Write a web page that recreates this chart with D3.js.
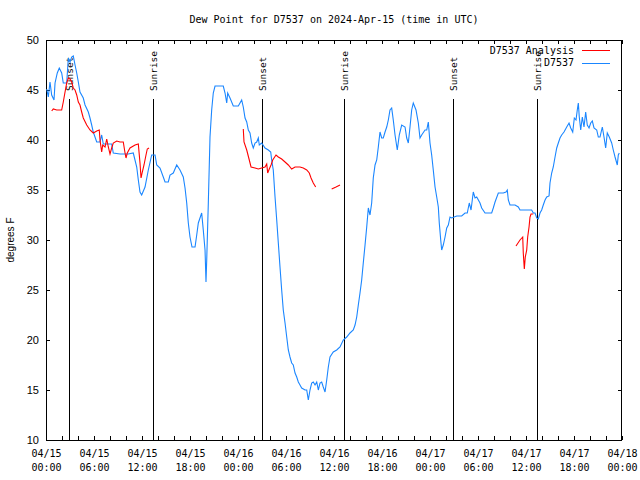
<!DOCTYPE html>
<html><head><meta charset="utf-8">
<script src="https://cdn.jsdelivr.net/npm/d3@7"></script>
<style>
html,body{margin:0;padding:0;background:#fff;}
svg{display:block;}
</style>
</head><body>
<svg id="chart" width="640" height="480"></svg>
<script>
// ---- data (hours since 2024-04-15 00:00 UTC) ----
const titleText = "Dew Point for D7537 on 2024-Apr-15 (time in UTC)";
const yLabel = "degrees F";
const seriesNames = ["D7537 Analysis", "D7537"];
const yTicks = [10, 15, 20, 25, 30, 35, 40, 45, 50];

const stationHours = [0.09,0.29,0.5,0.71,1.0,1.13,1.41,1.66,1.96,2.16,2.59,2.79,3.0,3.21,3.41,3.63,3.84,4.04,4.25,4.66,4.88,5.29,5.5,5.71,5.91,6.34,6.75,6.96,7.16,8.21,8.41,9.25,10.29,10.91,11.34,11.54,11.75,11.96,12.38,12.79,13.21,13.63,13.84,14.25,14.66,14.88,15.29,15.5,15.91,16.34,16.75,17.16,17.38,17.59,17.79,18.0,18.25,18.63,18.84,19.04,19.46,19.66,19.88,20.0,20.09,20.29,20.5,20.71,20.91,21.13,22.16,22.38,22.59,22.71,23.0,23.41,24.04,24.46,24.66,24.88,25.09,25.29,25.5,25.71,25.91,26.13,26.34,26.54,26.66,26.96,27.38,27.79,28.09,28.21,28.41,28.63,28.84,29.04,29.25,29.46,29.66,29.88,30.09,30.29,30.5,30.71,30.91,31.13,31.34,31.54,31.75,31.96,32.38,32.59,32.79,33.0,33.21,33.41,33.63,33.84,34.04,34.25,34.46,34.66,34.88,35.09,35.29,35.5,35.91,36.34,36.75,37.16,37.59,38.0,38.41,38.63,38.84,39.04,39.25,39.46,39.66,39.88,40.09,40.29,40.5,40.71,40.91,41.13,41.34,41.54,41.75,41.96,42.16,42.38,42.59,42.79,43.0,43.21,43.41,43.63,43.91,44.16,44.46,44.88,45.09,45.29,45.5,45.71,45.91,46.25,46.54,46.75,46.96,47.38,47.59,47.79,48.0,48.21,48.41,48.63,48.84,49.04,49.16,49.34,49.46,49.66,49.88,50.09,50.29,50.5,50.71,51.34,51.96,52.38,52.66,52.91,53.13,53.41,53.63,53.84,54.25,54.46,54.88,55.71,55.91,56.13,56.54,57.16,57.5,57.66,57.79,58.0,58.63,59.04,59.25,60.71,60.91,61.13,61.34,61.54,61.75,61.96,62.16,62.38,62.59,62.88,63.0,63.21,63.41,63.63,63.84,64.04,64.25,64.46,64.75,65.09,65.38,65.59,65.84,66.04,66.25,66.41,66.54,66.66,66.84,67.04,67.25,67.46,67.66,67.88,68.09,68.29,68.5,68.84,69.04,69.25,69.54,69.75,69.96,70.16,70.41,70.71,70.91,71.13,71.41,71.54,71.66];
const stationValues = [45.1,44.3,45.8,44.5,44.0,45.7,46.7,47.2,46.7,45.7,45.7,48.2,47.8,48.3,48.4,47.5,46.7,45.8,44.8,44.2,43.5,42.8,42.2,41.5,40.8,39.8,39.8,40.5,39.6,39.6,38.7,38.6,38.6,38.7,37.3,36.0,34.8,34.5,35.3,37.0,38.5,38.5,37.5,37.2,36.3,35.8,35.8,36.5,36.7,37.5,37.0,36.3,35.2,33.7,31.7,30.3,29.3,29.3,30.5,31.7,32.7,31.0,29.0,25.8,28.0,33.7,40.3,43.0,44.7,45.4,45.4,44.7,43.7,44.7,44.2,43.4,43.4,44.0,43.3,42.2,41.8,41.0,40.7,39.7,39.2,39.7,39.8,40.2,39.5,39.7,39.2,39.0,38.8,38.0,37.0,34.3,32.0,29.7,27.3,25.0,23.0,21.7,20.3,19.0,18.3,17.7,17.5,16.7,16.3,15.8,15.5,15.2,15.0,15.0,14.0,15.0,15.7,15.8,15.5,15.8,15.0,15.7,15.8,15.3,14.8,16.0,17.3,18.3,18.8,19.0,19.3,20.0,20.3,20.7,21.0,21.5,22.3,23.5,24.7,26.0,27.7,29.5,31.3,33.2,32.5,33.7,36.2,37.5,38.0,39.3,40.8,40.2,40.2,40.8,41.3,42.0,43.0,43.2,42.0,40.5,39.0,40.5,41.5,41.3,40.2,39.7,41.3,43.0,43.7,43.0,41.7,40.2,40.5,41.0,41.0,41.8,39.7,38.5,37.0,35.3,34.3,33.3,31.7,30.0,29.0,29.5,30.3,31.2,31.5,32.3,32.2,32.4,32.4,32.7,32.7,33.7,33.0,34.8,34.2,34.3,33.7,33.2,32.7,32.7,33.2,33.8,34.7,34.7,34.8,35.0,34.0,33.5,33.5,33.3,33.0,33.0,32.7,32.7,32.2,32.1,32.7,33.0,33.5,34.0,34.3,34.4,35.7,36.7,37.3,38.3,39.2,39.7,40.2,40.5,40.8,41.3,41.7,41.2,40.8,42.2,42.0,43.0,43.7,42.3,41.0,42.3,41.3,42.8,41.5,41.2,41.7,41.9,41.2,41.0,40.3,40.3,41.3,40.3,39.2,40.7,40.3,39.7,39.0,38.3,37.5,38.5,38.7];

// analysis series; null marks a gap
const analysisHours = [0.71,0.91,1.34,1.96,2.16,2.38,2.59,2.79,3.0,3.21,3.41,3.63,3.84,4.04,4.25,4.46,4.66,5.09,5.5,5.91,6.13,6.34,6.66,6.75,6.96,7.09,7.38,7.59,7.79,8.0,8.21,8.41,8.84,9.25,9.66,9.88,10.0,10.16,10.5,11.13,11.54,11.75,11.88,12.04,12.25,12.5,12.66,12.88,
  18.0,
  24.66,24.75,25.09,25.41,25.63,26.13,26.54,26.96,27.38,27.59,27.71,27.91,28.13,28.34,28.75,29.04,29.46,29.88,30.29,30.71,31.13,31.75,32.16,32.59,32.91,33.13,33.41,33.71,
  34.7,
  35.71,36.25,36.75,
  50.0,
  58.75,59.25,59.59,59.66,59.79,59.91,60.09,60.21,60.38,60.5,60.63,60.91];
const analysisValues = [42.9,43.1,43.0,43.0,43.8,44.8,45.7,46.2,46.1,45.8,45.2,45.0,44.5,43.8,43.5,42.8,42.2,41.5,41.0,40.7,40.8,40.9,41.0,40.0,38.8,39.5,39.3,40.1,39.3,38.6,39.2,39.7,39.9,39.8,39.8,38.7,38.2,38.7,39.2,39.5,39.6,37.7,36.2,36.8,37.5,38.5,39.1,39.2,
  null,
  41.1,39.8,39.0,38.0,37.3,37.2,37.1,37.2,37.3,37.6,36.7,37.1,37.5,38.0,38.5,38.3,38.1,37.8,37.5,37.1,37.3,37.3,37.2,37.0,36.7,36.2,35.7,35.3,
  null,
  35.1,35.3,35.5,
  null,
  29.4,30.0,30.3,28.7,27.1,28.3,29.0,30.3,31.3,32.3,32.6,32.6];

const sunEventNames = ["Sunset","Sunrise","Sunset","Sunrise","Sunset","Sunrise"];
const sunEventHours = [2.91, 13.41, 26.96, 37.29, 50.84, 61.34];

// ---- drawing ----
const startMs = Date.UTC(2024, 3, 15, 0, 0);
const toDate = h => new Date(startMs + h * 3600e3);

const m = {left: 46, right: 622, top: 40, bottom: 440};
const svg = d3.select("#chart");
const MONO = "'DejaVu Sans Mono', monospace";
const SANS = "'Liberation Sans', Arial, sans-serif";

const x = d3.scaleUtc().domain([toDate(0), toDate(72)]).range([m.left, m.right]);
const y = d3.scaleLinear().domain([10, 50]).range([m.bottom, m.top]);

const minorTicks = d3.range(0, 73, 2).map(toDate);
const majorTicks = d3.range(0, 73, 6).map(toDate);

function styleAxis(g){ g.select(".domain").remove(); g.selectAll("line").attr("stroke","#000").attr("shape-rendering","crispEdges"); }
svg.append("g").attr("transform",`translate(0,${m.bottom})`)
  .call(d3.axisBottom(x).tickValues(minorTicks).tickSize(-4).tickFormat(""))
  .call(styleAxis);
svg.append("g").attr("transform",`translate(0,${m.top})`)
  .call(d3.axisTop(x).tickValues(minorTicks).tickSize(-4).tickFormat(""))
  .call(styleAxis);

// x labels
const fmtD = d3.utcFormat("%m/%d"), fmtT = d3.utcFormat("%H:%M");
const xl = svg.append("g").attr("transform",`translate(0,${m.bottom})`)
  .call(d3.axisBottom(x).tickValues(majorTicks).tickSize(0).tickPadding(0).tickFormat(""));
xl.select(".domain").remove();
xl.selectAll(".tick text").remove();
xl.selectAll(".tick").append("text")
  .attr("text-anchor","middle").attr("fill","#000")
  .style("font-family",MONO).style("font-size","10px")
  .each(function(d){
    const t = d3.select(this);
    t.append("tspan").attr("x",0).attr("y",17).text(fmtD(d));
    t.append("tspan").attr("x",0).attr("y",31).text(fmtT(d));
  });

// y axes
const yl = svg.append("g").attr("transform",`translate(${m.left},0)`)
  .call(d3.axisLeft(y).tickValues(yTicks).tickSize(-4).tickPadding(7))
  .call(styleAxis);
yl.selectAll("text").style("font-family",SANS).style("font-size","11px").attr("fill","#000");
svg.append("g").attr("transform",`translate(${m.right},0)`)
  .call(d3.axisRight(y).tickValues(yTicks).tickSize(-4).tickFormat(""))
  .call(styleAxis);

// frame
svg.append("rect").attr("x",m.left+0.5).attr("y",m.top+0.5)
  .attr("width",m.right-m.left-1).attr("height",m.bottom-m.top)
  .attr("fill","none").attr("stroke","#000").attr("shape-rendering","crispEdges");

// sunrise / sunset lines
const sg = svg.append("g");
sunEventHours.forEach((h,i)=>{
  const px = Math.round(x(toDate(h))) + 0.5;
  sg.append("line").attr("x1",px).attr("x2",px).attr("y1",99).attr("y2",m.bottom)
    .attr("stroke","#000").attr("stroke-width",1).attr("shape-rendering","crispEdges");
  sg.append("text").attr("transform",`translate(${px+3.5},91) rotate(-90)`)
    .attr("text-anchor","start").attr("fill","#000")
    .style("font-family",MONO).style("font-size","9.5px")
    .text(sunEventNames[i]);
});

// series lines
const blueData = stationHours.map((h,i)=>({t:toDate(h), v:stationValues[i]}));
const redData = analysisHours.map((h,i)=>({t:toDate(h), v:analysisValues[i]}));
const line = d3.line().defined(d=>d.v!==null).x(d=>x(d.t)).y(d=>y(d.v));
svg.append("path").datum(blueData).attr("d",line)
  .attr("fill","none").attr("stroke","#1a86ff").attr("stroke-width",1.1);
svg.append("path").datum(redData).attr("d",line)
  .attr("fill","none").attr("stroke","#ff0000").attr("stroke-width",1.1);

// legend
const lg = svg.append("g");
const legColors = ["#ff0000","#1a86ff"];
seriesNames.forEach((n,i)=>{
  const yy = 50 + i*12.7;
  lg.append("text").attr("x",574).attr("y",yy+3.6).attr("text-anchor","end")
    .attr("fill","#000").style("font-family",MONO).style("font-size","10px").text(n);
  lg.append("line").attr("x1",582).attr("x2",610).attr("y1",Math.round(yy)+0.5).attr("y2",Math.round(yy)+0.5)
    .attr("stroke",legColors[i]).attr("stroke-width",1);
});

// title
svg.append("text").attr("x",(m.left+m.right)/2).attr("y",23).attr("text-anchor","middle")
  .attr("fill","#000").style("font-family",MONO).style("font-size","10px").text(titleText);

// y label
svg.append("text").attr("transform",`translate(14,${(m.top+m.bottom)/2}) rotate(-90)`)
  .attr("text-anchor","middle").attr("fill","#000")
  .style("font-family",SANS).style("font-size","10px").text(yLabel);
</script>
</body></html>
